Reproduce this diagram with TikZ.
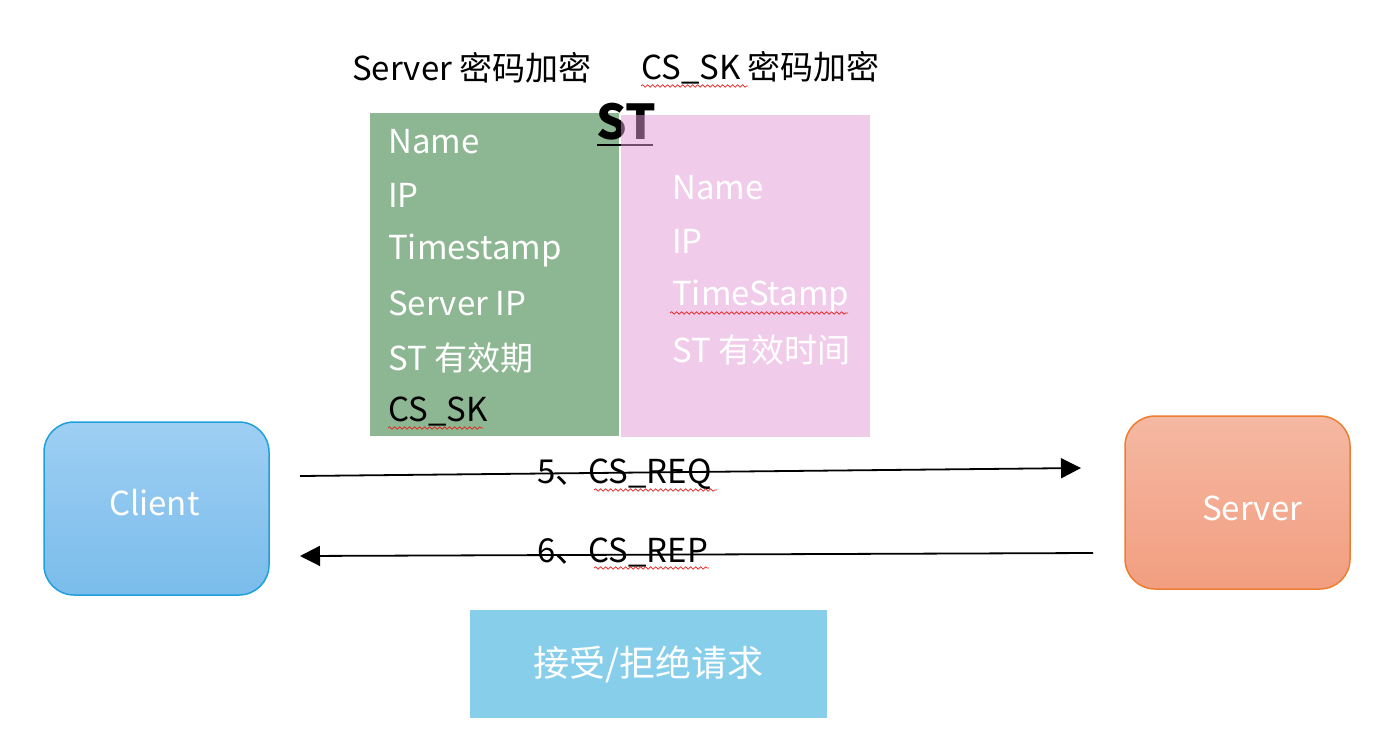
\documentclass[tikz,border=0pt]{standalone}
\usepackage{fontspec}
\setmainfont{Noto Sans CJK SC}
\usetikzlibrary{arrows.meta,decorations.pathmorphing}
\definecolor{greenbox}{RGB}{141,182,146}
\definecolor{pinkbase}{RGB}{226,152,214}
\definecolor{clienttop}{RGB}{158,207,243}
\definecolor{clientbot}{RGB}{122,188,235}
\definecolor{clientline}{RGB}{30,160,220}
\definecolor{servertop}{RGB}{245,184,162}
\definecolor{serverbot}{RGB}{242,158,128}
\definecolor{serverline}{RGB}{237,125,49}
\definecolor{skybox}{RGB}{135,206,235}
\definecolor{spell}{RGB}{230,30,30}
\tikzset{
  txt/.style={anchor=west,inner sep=0pt,font=\fontsize{33}{38}\selectfont},
  wtxt/.style={txt,text=white},
  endpoint/.style={rounded corners=30pt,minimum width=225pt,minimum height=173pt,line width=1.5pt,text=white,font=\fontsize{33}{38}\selectfont},
  msg/.style={line width=1.8pt,-{Triangle[length=20pt,width=20pt]}},
  squiggle/.style={spell,line width=0.7pt,decorate,decoration={snake,amplitude=1.2pt,segment length=5pt}}
}
\begin{document}
\begin{tikzpicture}[x=1pt,y=-1pt]
\useasboundingbox (0,0) rectangle (1400,742);
% titles
\node[txt] (t1) at (352,68) {Server 密码加密};
\node[txt] (t2) at (641,68) {CS\_SK 密码加密};
\draw[squiggle] (641,86) -- (748,86);
% green box
\node[fill=greenbox,anchor=north west,minimum width=249pt,minimum height=323pt,inner sep=0pt] (gbox) at (370,113) {};
% ST
\node[anchor=base west,inner sep=0pt,font=\fontsize{48}{54}\selectfont\bfseries] (st) at (596,139) {ST};
\draw[line width=2.4pt] (597,145) -- (653,145);
\node[wtxt] (g1) at (388,142) {Name};
\node[wtxt] (g2) at (388,195) {IP};
\node[wtxt] (g3) at (388,250) {Timestamp};
\node[wtxt] (g4) at (388,303) {Server IP};
\node[wtxt] (g5) at (388,358) {ST 有效期};
\node[txt] (g6) at (388,411) {CS\_SK};
\draw[squiggle] (388,428) -- (483,428);
% pink box (semi-transparent)
\node[fill=pinkbase,fill opacity=0.5,anchor=north west,minimum width=249pt,minimum height=322pt,inner sep=0pt] (pbox) at (621,115) {};
\node[wtxt] (p1) at (672,188) {Name};
\node[wtxt] (p2) at (672,241) {IP};
\node[wtxt] (p3) at (672,296) {TimeStamp};
\node[wtxt] (p4) at (672,350) {ST 有效时间};
\draw[squiggle] (670,313) -- (848,313);
% endpoints
\node[endpoint,draw=clientline,top color=clienttop,bottom color=clientbot] (client) at (156.5,508.5) {};
\node[wtxt] (clientlbl) at (109,503) {Client};
\node[endpoint,draw=serverline,top color=servertop,bottom color=serverbot] (server) at (1237.5,502.5) {};
\node[wtxt] (serverlbl) at (1202,508) {Server};
% messages
\coordinate (reqs) at (300,476);
\coordinate (reqe) at (1081,468);
\coordinate (reps) at (1093,553);
\coordinate (repe) at (300,556);
\draw[msg] (reqs) -- (reqe);
\draw[msg] (reps) -- (repe);
\node[txt] (req) at (537,474) {5、CS\_REQ};
\node[txt] (rep) at (537,552) {6、CS\_REP};
\draw[squiggle] (594,490) -- (717,490);
\draw[squiggle] (594,568) -- (709,568);
% bottom box
\node[fill=skybox,minimum width=357pt,minimum height=108pt,inner sep=0pt,text=white,font=\fontsize{36}{40}\selectfont] (decide) at (648.5,664) {接受/拒绝请求};
\end{tikzpicture}
\end{document}
